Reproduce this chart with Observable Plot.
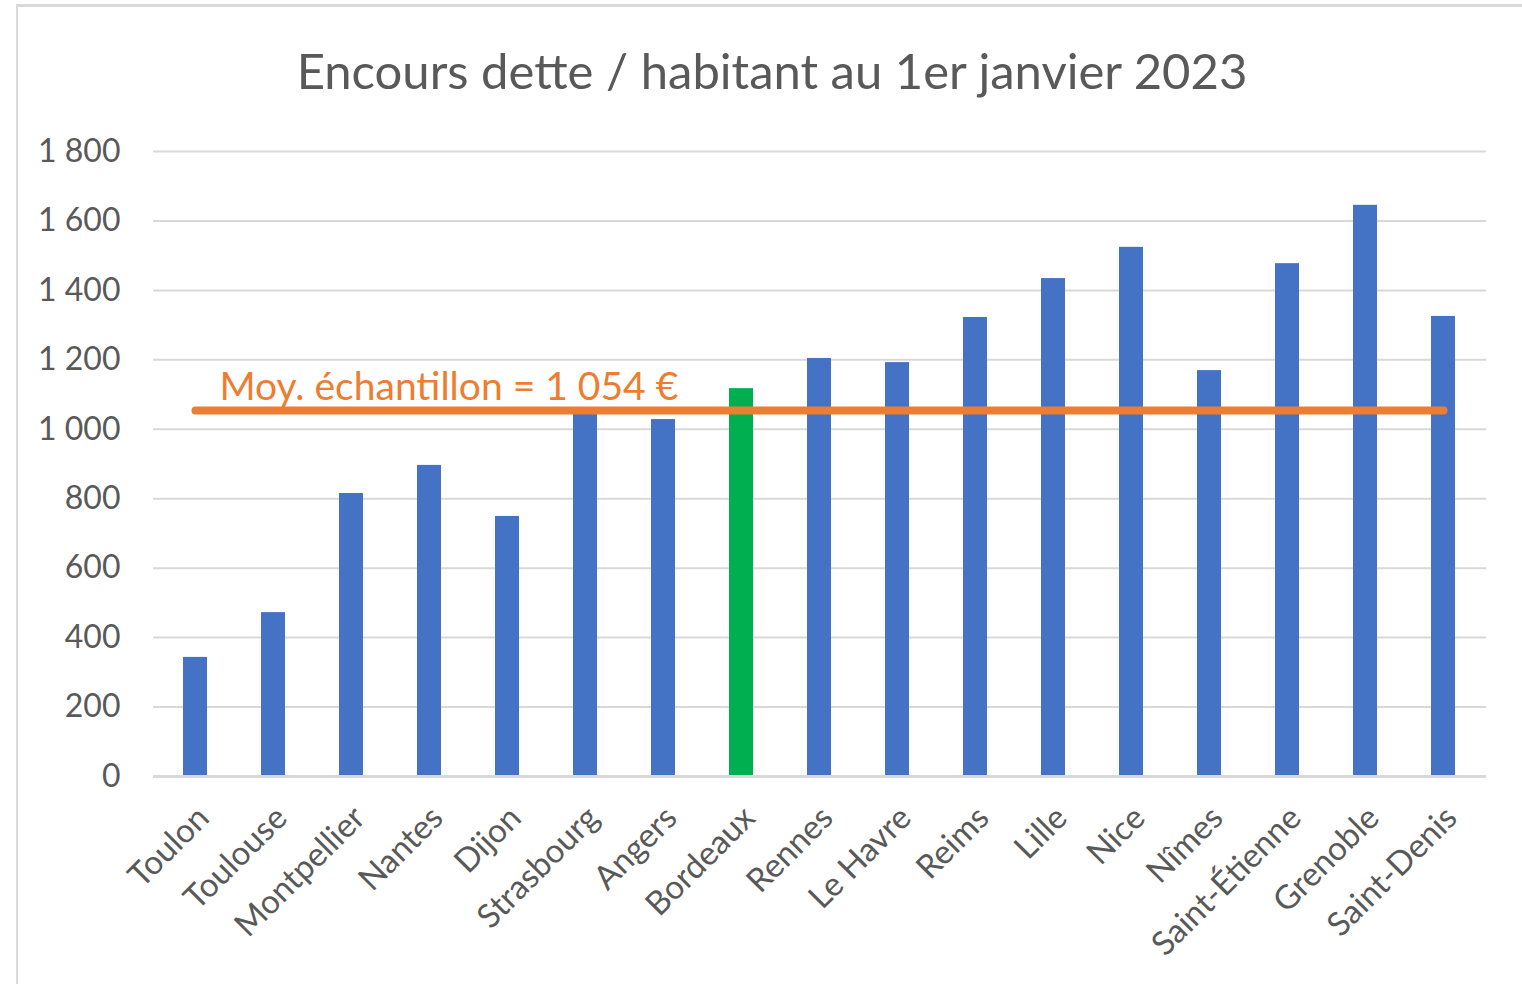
<!DOCTYPE html>
<html><head><meta charset="utf-8">
<script src="https://cdn.jsdelivr.net/npm/d3@7"></script>
<script src="https://cdn.jsdelivr.net/npm/@observablehq/plot@0.6"></script>
<style>
html,body{margin:0;padding:0;background:#fff;overflow:hidden;width:1522px;height:984px;}
#frame{position:absolute;left:16px;top:4px;width:1600px;height:1100px;border-left:2px solid #d9d9d9;border-top:3px solid #d9d9d9;}
#title{position:absolute;left:0;width:1544px;top:46px;text-align:center;font-family:Lato;font-size:49px;color:#595959;line-height:1;}
#chart{position:absolute;left:0;top:0;}
</style></head><body>
<div id="frame"></div>
<div id="chart"></div>
<div id="title">Encours dette / habitant au 1er janvier 2023</div>
<script>
const cities = ["Toulon","Toulouse","Montpellier","Nantes","Dijon","Strasbourg","Angers","Bordeaux","Rennes","Le Havre","Reims","Lille","Nice","Nîmes","Saint-Étienne","Grenoble","Saint-Denis"];
const values = [343,472,815,896,749,1056,1028,1117,1204,1192,1322,1434,1524,1169,1477,1645,1325];
const highlight = "Bordeaux";
const average = 1054;
const averageLabel = "Moy. échantillon = 1 054 €";
const yTicks = [0,200,400,600,800,1000,1200,1400,1600,1800];

const data = cities.map((c,i)=>({city:c, value:values[i]}));
const fmt = v => d3.format(",")(v).replace(/,/g," ");

const plot = Plot.plot({
  width:1522, height:984, marginLeft:153, marginRight:36, marginTop:151, marginBottom:208,
  style:{fontFamily:"Lato", fontSize:"32px", color:"#595959", background:"transparent"},
  x:{domain:cities, paddingInner:0.69, paddingOuter:0.345, label:null},
  y:{domain:[0,1800], label:null},
  color:{type:"identity"},
  marks:[
    Plot.gridY(yTicks,{stroke:"#d9d9d9", strokeOpacity:1, strokeWidth:2}),
    Plot.axisY(yTicks,{tickSize:0, tickPadding:33, tickFormat:fmt, fontSize:32, fill:"#595959", label:null}),
    Plot.barY(data,{x:"city", y:"value", fill:d => d.city===highlight ? "#00B050" : "#4472C4"}),
    Plot.ruleY([0],{stroke:"#d9d9d9", strokeWidth:3}),
    Plot.axisX({tickSize:0, tickRotate:-45, tickPadding:36, dx:8, fontSize:33, fill:"#595959", label:null}),
    Plot.line([{city:cities[0], v:average},{city:cities[cities.length-1], v:average}],
      {x:"city", y:"v", stroke:"#ED7D31", strokeWidth:8, strokeLinecap:"round"}),
    Plot.text([averageLabel], {x:[cities[0]], y:[average], text:d=>d, dx:24, dy:-11,
      textAnchor:"start", lineAnchor:"bottom", fill:"#ED7D31", fontSize:39})
  ]
});
document.getElementById("chart").appendChild(plot);
</script>
</body></html>
